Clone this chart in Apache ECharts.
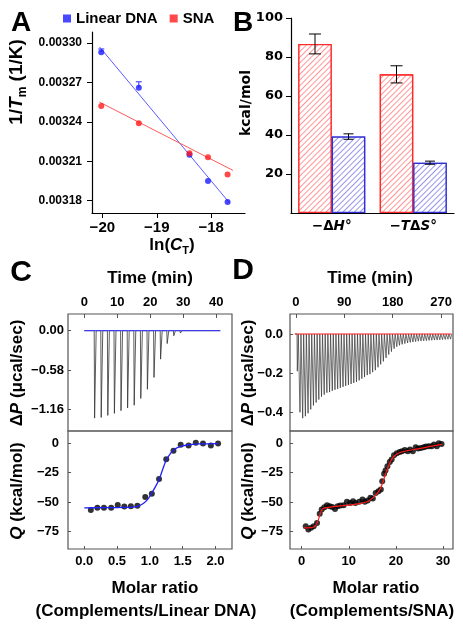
<!DOCTYPE html>
<html><head><meta charset="utf-8">
<script src="https://cdn.jsdelivr.net/npm/echarts@6/dist/echarts.min.js"></script>
<style>html,body{margin:0;padding:0;background:#fff}#c{width:463px;height:628px}</style>
</head><body><div id="c"></div>
<script>
// ---------- Panel A ----------
const aLnCT = [-20.02, -19.33, -18.40, -18.06, -17.70];
const aLinear = [0.003293, 0.003266, 0.003215, 0.003195, 0.003179];
const aLinearErr = [0.0000025, 0.0000045, 0, 0, 0];
const aSNA = [0.003252, 0.003239, 0.003216, 0.003213, 0.003200];
const aLinearFitX = [-20.05, -17.66];
const aLinearFitY = [0.003297, 0.003178];
const aSNAFitX = [-20.05, -17.60];
const aSNAFitY = [0.003255, 0.003203];
const aXTicks = [-20, -19, -18];
const aYTicks = [0.00318, 0.00321, 0.00324, 0.00327, 0.00330];
// ---------- Panel B ----------
const bCategories = ['−ΔH°', '−TΔS°'];
const bSNA = [86.7, 71.1];
const bSNAErr = [5.1, 4.4];
const bLinear = [39.2, 25.8];
const bLinearErr = [1.4, 0.8];
const bYTicks = [20, 40, 60, 80, 100];
// ---------- Panel C ----------
const cInjTime = [3,5,7,9,11,13,15,17,19,21,23,25,27,29,31,33,35,37,39];
const cPeak = [-1.29,-1.28,-1.25,-1.22,-1.18,-1.14,-1.10,-1.00,-0.865,-0.69,-0.42,-0.19,-0.075,-0.035,-0.025,-0.02,-0.02,-0.018,-0.015];
const cTimeRange = [0, 41.2];
const cRatio = [0.10,0.20,0.30,0.41,0.51,0.61,0.71,0.81,0.93,1.03,1.14,1.25,1.36,1.47,1.59,1.70,1.81,1.93,2.04];
const cQ = [-56.8,-54.9,-54.9,-54.9,-52.6,-53.8,-53.5,-53.2,-45.6,-43.0,-30.3,-13.6,-6.3,-1.2,-2.0,0.5,-0.3,-2.0,-0.3];
const cFitRatio = [0.0,0.3,0.6,0.8,0.9,0.97,1.03,1.09,1.14,1.2,1.25,1.31,1.36,1.42,1.5,1.6,1.75,2.04];
const cFitQ = [-54.9,-54.8,-54.5,-53.8,-51.2,-47.5,-42.2,-36.5,-30.8,-21.5,-14.2,-9.0,-5.8,-3.8,-2.3,-1.3,-0.6,-0.3];
const cTimeTicks = [0, 10, 20, 30, 40];
const cPTicks = [0, -0.58, -1.16];
const cRatioTicks = [0, 0.5, 1.0, 1.5, 2.0];
const qTicks = [0, -25, -50, -75];
// ---------- Panel D ----------
const dInjTime = [2,7,12,17,22,27,32,37,42,47,52,57,62,67,72,77,82,87,92,97,102,107,112,117,122,127,132,137,142,147,152,157,162,167,172,177,182,187,192,197,202,207,212,217,222,227,232,237,242,247,252,257,262,267,272,277,282,287];
const dPeak = [-0.19,-0.40,-0.43,-0.42,-0.405,-0.385,-0.365,-0.35,-0.335,-0.32,-0.31,-0.30,-0.297,-0.29,-0.285,-0.28,-0.275,-0.27,-0.265,-0.26,-0.255,-0.25,-0.245,-0.237,-0.228,-0.22,-0.21,-0.205,-0.195,-0.185,-0.17,-0.155,-0.14,-0.122,-0.105,-0.09,-0.075,-0.065,-0.058,-0.053,-0.049,-0.046,-0.043,-0.041,-0.039,-0.037,-0.036,-0.035,-0.034,-0.033,-0.032,-0.031,-0.031,-0.030,-0.029,-0.028,-0.027,-0.026];
const dTimeRange = [-2, 289];
const dRatio = [0.85,1.41,1.98,2.54,3.25,3.82,4.24,4.81,5.37,5.94,6.5,7.07,7.63,8.2,8.9,9.6,10.3,10.9,11.4,12.2,12.9,13.4,14.0,14.6,15.1,15.7,16.3,16.8,17.1,17.5,17.8,18.2,18.7,19.1,19.6,20.2,20.8,21.3,21.9,22.5,23.0,23.6,24.2,24.7,25.3,25.9,26.4,27.0,27.6,28.1,28.7,29.1,29.7];
const dQ = [-70.5,-73.3,-71.9,-70.5,-67.7,-60,-56.3,-54.4,-52.7,-53.5,-54.1,-55.8,-53.5,-52.9,-52.7,-49.8,-50.7,-49.3,-50.7,-49.8,-47.8,-49.8,-48.7,-46.4,-47,-42.2,-40.8,-39.4,-32.3,-26,-23.2,-19.5,-15.9,-13.9,-10.2,-8.5,-7.4,-6.8,-5.7,-6.8,-5.4,-6.8,-3.4,-4.5,-4.0,-3.4,-2.8,-2.5,-2.5,-1.1,-2.5,0,-0.6];
const dFitRatio = [0.4,2.0,2.8,3.3,3.7,4.0,4.4,4.9,6.4,9.2,12.0,14.1,15.5,16.6,17.3,18.0,18.7,19.4,20.5,21.9,24.7,27.6,29.8];
const dFitQ = [-72,-71.8,-70.5,-67.5,-63,-59,-56,-54.9,-54.1,-52.9,-51.5,-49.3,-45,-39.4,-32.3,-23.8,-16.7,-11.9,-8.5,-6.8,-4.8,-2.5,-1.0];
const dTimeTicks = [0, 90, 180, 270];
const dPTicks = [0, -0.2, -0.4];
const dRatioTicks = [0, 10, 20, 30];

// ---------- helpers ----------
const F = '"Liberation Sans", Arial, sans-serif';
const FD = '"DejaVu Sans", sans-serif';
const zip = (a, b) => a.map((v, i) => [v, b[i]]);
const neg = s => String(s).replace('-', '−');
function trace(times, peaks, range, down, up) {
  const pts = [[range[0], 0]];
  times.forEach((t, i) => { pts.push([t, 0], [t + down, peaks[i]], [t + up, 0]); });
  pts.push([range[1], 0]);
  return pts;
}
function vAxis(grid, pos, min, max, ticks, fmt, o) {
  return {
    type: 'value', gridIndex: grid, position: pos, min: min, max: max,
    splitLine: { show: false },
    axisLine: { show: o.line !== false, onZero: false, lineStyle: { color: '#000', width: 1.2 } },
    axisTick: { show: true, inside: !!o.inside, length: o.tl || 5, customValues: ticks, lineStyle: { color: o.tc || '#000', width: 1 } },
    axisLabel: { customValues: ticks, formatter: fmt, margin: o.margin, fontSize: o.fs, fontWeight: 'bold', fontFamily: o.ff || F, color: '#000' }
  };
}
function errA(params, api) {
  const x = api.value(0), y = api.value(1), e = api.value(2);
  if (!e) return null;
  const p0 = api.coord([x, y]), p1 = api.coord([x, y + e]);
  return { type: 'group', children: [
    { type: 'line', shape: { x1: p0[0], y1: p0[1], x2: p1[0], y2: p1[1] }, style: { stroke: '#3030ff', lineWidth: 1 } },
    { type: 'line', shape: { x1: p1[0] - 3, y1: p1[1], x2: p1[0] + 3, y2: p1[1] }, style: { stroke: '#3030ff', lineWidth: 1 } }
  ]};
}
function errB(offset, cap) {
  return function (params, api) {
    const x = api.value(0), y = api.value(1), e = api.value(2);
    const t = api.coord([x, y + e]), b = api.coord([x, y - e]);
    const cx = t[0] + offset;
    const s = { stroke: '#000', lineWidth: 1 };
    return { type: 'group', children: [
      { type: 'line', shape: { x1: cx, y1: t[1], x2: cx, y2: b[1] }, style: s },
      { type: 'line', shape: { x1: cx - cap, y1: t[1], x2: cx + cap, y2: t[1] }, style: s },
      { type: 'line', shape: { x1: cx - cap, y1: b[1], x2: cx + cap, y2: b[1] }, style: s }
    ]};
  };
}
function mkRich(fs) {
  return {
    i: { fontStyle: 'italic', fontWeight: 'bold', fontSize: fs, fontFamily: F, fill: '#000', lineHeight: fs + 5 },
    sub: { fontWeight: 'bold', fontSize: Math.round(fs * 0.65), fontFamily: F, fill: '#000', lineHeight: Math.round(fs * 0.65), verticalAlign: 'bottom' }
  };
}
function label(text, x, y, rot, fs, ff) {
  return { type: 'text', x: x, y: y, rotation: rot ? Math.PI / 2 : 0, z: 100,
    style: { text: text, fill: '#000', fontSize: fs || 17, fontWeight: 'bold', fontFamily: ff || F,
      align: 'center', verticalAlign: 'middle', lineHeight: (fs || 17) + 5, rich: mkRich(fs || 17) } };
}
const boxGrid = { show: true, borderColor: '#555', borderWidth: 1.2, backgroundColor: 'transparent' };
const hatch = (c) => ({ symbol: 'rect', symbolSize: 1, dashArrayX: [1, 0], dashArrayY: [1, 2.5], rotation: -Math.PI / 4, color: c, backgroundColor: '#fff' });

const chart = echarts.init(document.getElementById('c'), null, { renderer: 'canvas' });
chart.setOption({
  animation: false,
  backgroundColor: '#fff',
  legend: {
    data: [{ name: 'Linear DNA' }, { name: 'SNA' }], left: 58, top: 6, icon: 'rect',
    itemWidth: 8, itemHeight: 8, itemGap: 12, selectedMode: false,
    textStyle: { fontSize: 15, fontWeight: 'bold', fontFamily: F, color: '#000' }
  },
  grid: [
    { left: 92, top: 32, width: 153, height: 181 },
    { left: 291, top: 18, width: 163, height: 195 },
    Object.assign({ left: 68, top: 314, width: 164, height: 117 }, boxGrid),
    Object.assign({ left: 68, top: 431, width: 164, height: 118 }, boxGrid),
    Object.assign({ left: 290, top: 314, width: 163, height: 117 }, boxGrid),
    Object.assign({ left: 290, top: 431, width: 163, height: 118 }, boxGrid)
  ],
  xAxis: [
    vAxis(0, 'bottom', -20.19, -17.38, aXTicks, v => neg(v), { margin: 7, fs: 15 }),
    { type: 'category', gridIndex: 1, data: bCategories,
      axisLine: { lineStyle: { color: '#000', width: 1.2 } },
      axisTick: { alignWithLabel: true, interval: 0, length: 5, lineStyle: { color: '#000' } },
      axisLabel: { interval: 0, margin: 6, fontSize: 13.5, fontWeight: 'bold', fontFamily: FD, color: '#000',
        formatter: v => v.replace(/([A-Z])/g, '{i|$1}'),
        rich: { i: { fontStyle: 'italic', fontWeight: 'bold', fontSize: 13.5, fontFamily: FD, color: '#000' } } } },
    vAxis(2, 'top', -4.94, 44.76, cTimeTicks, v => String(v), { margin: 5, fs: 13, inside: true, tl: 4, tc: '#555', line: false }),
    vAxis(3, 'bottom', -0.248, 2.252, cRatioTicks, v => v.toFixed(1), { margin: 6, fs: 13, inside: true, tl: 3, tc: '#555', line: false }),
    vAxis(4, 'top', -11.0, 292.0, dTimeTicks, v => String(v), { margin: 5, fs: 13, inside: true, tl: 4, tc: '#555', line: false }),
    vAxis(5, 'bottom', -2.49, 32.13, dRatioTicks, v => String(v), { margin: 6, fs: 13, inside: true, tl: 3, tc: '#555', line: false })
  ],
  yAxis: [
    vAxis(0, 'left', 0.0031706, 0.0033084, aYTicks, v => v.toFixed(5), { margin: 10, fs: 12 }),
    vAxis(1, 'left', 0, 100, bYTicks, v => String(v), { margin: 8, fs: 13, ff: FD }),
    vAxis(2, 'left', -1.48, 0.246, cPTicks, v => neg(v.toFixed(2)), { margin: 4, fs: 13, inside: true, tl: 3, tc: '#555', line: false }),
    vAxis(3, 'left', -89.9, 10.4, qTicks, v => neg(v), { margin: 9, fs: 13, inside: true, tl: 3, tc: '#555', line: false }),
    vAxis(4, 'left', -0.4955, 0.102, dPTicks, v => neg(v.toFixed(1)), { margin: 7, fs: 13, inside: true, tl: 3, tc: '#555', line: false }),
    vAxis(5, 'left', -89.9, 10.4, qTicks, v => neg(v), { margin: 7, fs: 13, inside: true, tl: 3, tc: '#555', line: false })
  ],
  series: [
    // A
    { type: 'line', xAxisIndex: 0, yAxisIndex: 0, data: zip(aLinearFitX, aLinearFitY), symbol: 'none', silent: true, lineStyle: { color: '#5a5aff', width: 1 } },
    { type: 'line', xAxisIndex: 0, yAxisIndex: 0, data: zip(aSNAFitX, aSNAFitY), symbol: 'none', silent: true, lineStyle: { color: '#ff5a5a', width: 1 } },
    { type: 'custom', xAxisIndex: 0, yAxisIndex: 0, data: aLnCT.map((x, i) => [x, aLinear[i], aLinearErr[i]]), renderItem: errA },
    { name: 'Linear DNA', type: 'scatter', xAxisIndex: 0, yAxisIndex: 0, data: zip(aLnCT, aLinear), symbolSize: 6, itemStyle: { color: '#1a1aff' }, z: 5 },
    { name: 'SNA', type: 'scatter', xAxisIndex: 0, yAxisIndex: 0, data: zip(aLnCT, aSNA), symbolSize: 6, itemStyle: { color: '#ff1a1a' }, z: 5 },
    // B
    { name: 'SNA-B', type: 'bar', xAxisIndex: 1, yAxisIndex: 1, data: bSNA, barWidth: 33.5, barGap: '0%',
      itemStyle: { color: '#fff', borderColor: '#ff2a2a', borderWidth: 1.3, decal: hatch('rgba(255,80,80,0.6)') } },
    { name: 'Linear-B', type: 'bar', xAxisIndex: 1, yAxisIndex: 1, data: bLinear, barWidth: 33.5, barGap: '0%',
      itemStyle: { color: '#fff', borderColor: '#3030d8', borderWidth: 1.3, decal: hatch('rgba(80,80,220,0.6)') } },
    { type: 'custom', xAxisIndex: 1, yAxisIndex: 1, data: bSNA.map((v, i) => [i, v, bSNAErr[i]]), renderItem: errB(-16.75, 6), z: 10 },
    { type: 'custom', xAxisIndex: 1, yAxisIndex: 1, data: bLinear.map((v, i) => [i, v, bLinearErr[i]]), renderItem: errB(16.75, 5), z: 10 },
    // C
    { type: 'line', xAxisIndex: 2, yAxisIndex: 2, data: trace(cInjTime, cPeak, cTimeRange, 0.12, 0.6), symbol: 'none', silent: true, lineStyle: { color: '#333', width: 0.8 } },
    { type: 'line', xAxisIndex: 2, yAxisIndex: 2, data: zip(cTimeRange, [0, 0]), symbol: 'none', silent: true, lineStyle: { color: '#3030ff', width: 1 } },
    { type: 'line', xAxisIndex: 3, yAxisIndex: 3, data: zip(cFitRatio, cFitQ), symbol: 'none', smooth: 0.3, silent: true, lineStyle: { color: '#2020ff', width: 1.3 } },
    { type: 'scatter', xAxisIndex: 3, yAxisIndex: 3, data: zip(cRatio, cQ), symbolSize: 6, itemStyle: { color: '#000' } },
    // D
    { type: 'line', xAxisIndex: 4, yAxisIndex: 4, data: trace(dInjTime, dPeak, dTimeRange, 0.6, 2.4), symbol: 'none', silent: true, lineStyle: { color: '#333', width: 0.7 } },
    { type: 'line', xAxisIndex: 4, yAxisIndex: 4, data: zip(dTimeRange, [0, 0]), symbol: 'none', silent: true, lineStyle: { color: '#ff2020', width: 1 } },
    { type: 'scatter', xAxisIndex: 5, yAxisIndex: 5, data: zip(dRatio, dQ), symbolSize: 6, itemStyle: { color: '#000' } },
    { type: 'line', xAxisIndex: 5, yAxisIndex: 5, data: zip(dFitRatio, dFitQ), symbol: 'none', smooth: 0.3, silent: true, lineStyle: { color: '#ff1a1a', width: 1.2 }, z: 5 }
  ],
  graphic: [
    label('A', 21, 23, false, 28),
    label('B', 243, 23, false, 28),
    label('C', 21, 273, false, 30),
    label('D', 243, 271, false, 30),
    label('1/{i|T}{sub|m} (1/K)', 17, 82, true, 19),
    label('ln({i|C}{sub|T})', 172, 245, false, 17),
    label('kcal/mol', 246, 103, true, 14, FD),
    label('Time (min)', 150, 278, false, 17),
    label('Time (min)', 370, 278, false, 17),
    label('Δ{i|P} (μcal/sec)', 17, 373, true, 17),
    label('{i|Q} (kcal/mol)', 17, 491, true, 17),
    label('Δ{i|P} (μcal/sec)', 248, 373, true, 17),
    label('{i|Q} (kcal/mol)', 248, 491, true, 17),
    label('Molar ratio', 155, 588, false, 17),
    label('(Complements/Linear DNA)', 146, 611, false, 17),
    label('Molar ratio', 376, 588, false, 17),
    label('(Complements/SNA)', 372, 611, false, 17)
  ]
});
</script>
</body></html>
